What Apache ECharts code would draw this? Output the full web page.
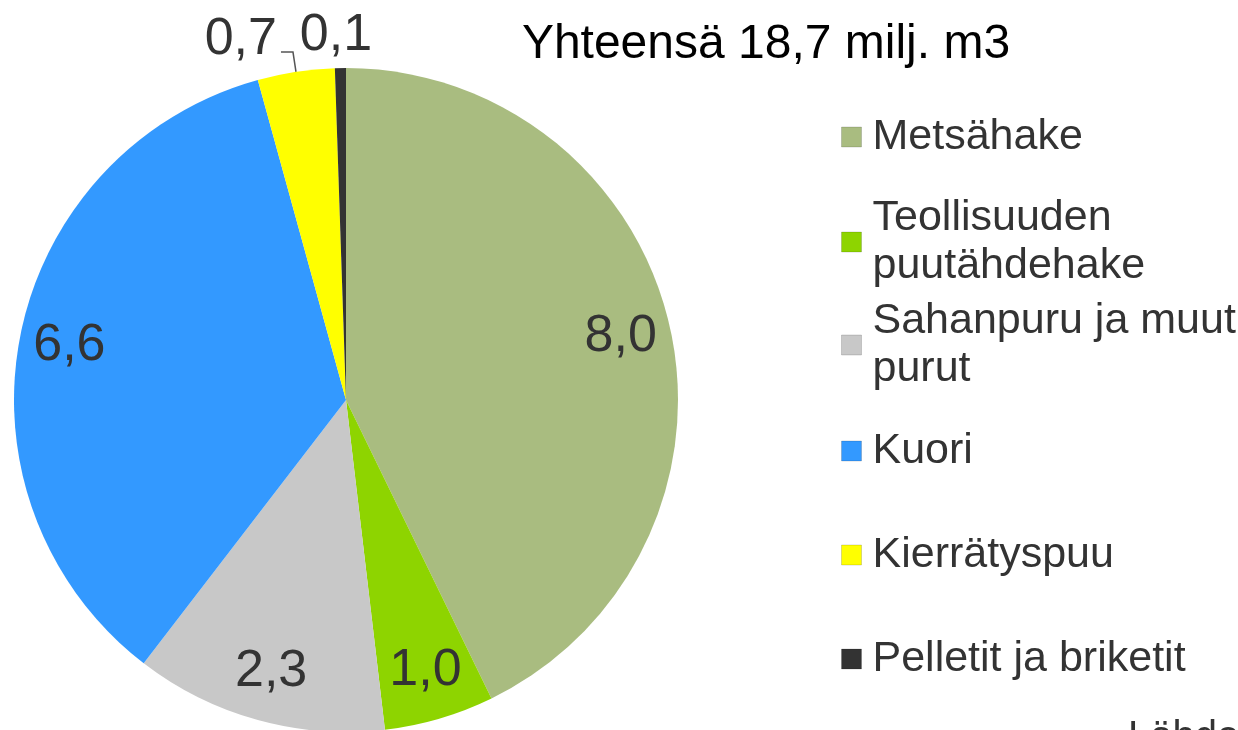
<!DOCTYPE html>
<html>
<head>
<meta charset="utf-8">
<script src="https://cdn.jsdelivr.net/npm/echarts@6/dist/echarts.min.js"></script>
<style>
  html, body { margin: 0; padding: 0; background: #fff; }
  #chart { width: 1238px; height: 730px; }
</style>
</head>
<body>
<div id="chart"></div>
<script>
(function(){

    var names = ['Metsähake', 'Teollisuuden\npuutähdehake', 'Sahanpuru ja muut\npurut', 'Kuori', 'Kierrätyspuu', 'Pelletit ja briketit'];
    var values = [8.0, 1.0, 2.3, 6.6, 0.7, 0.1];
    var colors = ['#A9BC80', '#8ED400', '#C8C8C8', '#3399FF', '#FFFF00', '#333333'];
    var legendCenters = [137, 242, 345, 451, 555, 659];
    var titleText = 'Yhteensä 18,7 milj. m3';
    var sourceText = 'Lähde:';

    var font = '"Liberation Sans", Arial, sans-serif';
    var cx = 346, cy = 400, r = 332;
    var lh = 48;

    function fmt(v){
        return v.toFixed(1).replace('.', ',');
    }

    var chart = echarts.init(document.getElementById('chart'));

    // pieni siivu -> label ulkona
    var pieData = [], labelData = [];
    for (var i = 0; i < names.length; i++) {
        var small = values[i] < 1;
        pieData.push({
            name: names[i],
            value: values[i],
            label: { show: small },
            labelLine: { show: small && i === 4 }
        });
        labelData.push({
            name: names[i],
            value: values[i],
            label: { show: !small }
        });
    }

    //legendat, yksi per rivi
    var legends = [];
    for (var j = 0; j < names.length; j++) {
        var twoLine = names[j].indexOf('\n') >= 0;
        legends.push({
            data: [names[j]],
            orient: 'vertical',
            left: 841,
            top: legendCenters[j] - (twoLine ? 1.5 * lh : 0.5 * lh),
            padding: 0,
            itemWidth: 20,
            itemHeight: 20,
            icon: 'rect',
            selectedMode: false,
            itemStyle: { borderColor: 'rgba(0,0,0,0.15)', borderWidth: 1 },
            textStyle: {
                fontFamily: font,
                fontSize: 43,
                lineHeight: lh,
                color: '#333',
                padding: [twoLine ? lh : 0, 0, 0, 6]
            }
        });
    }

    var option = {
        color: colors,
        animation: false,
        title: {
            text: titleText,
            left: 766,
            textAlign: 'center',
            top: 21,
            padding: 0,
            textStyle: {
                fontFamily: font,
                fontSize: 48,
                fontWeight: 'normal',
                color: '#000'
            }
        },
        legend: legends,
        graphic: [{
            type: 'text',
            left: 1128,
            top: 718,
            style: {
                text: sourceText,
                font: '40px ' + font,
                fill: '#333'
            }
        }],
        series: [
            {
                name: 'puu',
                type: 'pie',
                center: [cx, cy],
                radius: [0, r],
                startAngle: 90,
                clockwise: true,
                avoidLabelOverlap: false,
                emphasis: { disabled: true },
                label: {
                    position: 'outside',
                    fontFamily: font,
                    fontSize: 52,
                    color: '#333',
                    distanceToLabelLine: 4,
                    formatter: function(p){ return fmt(p.value); }
                },
                labelLine: {
                    length: 20,
                    length2: 12,
                    smooth: false,
                    lineStyle: { color: '#555', width: 1.5 }
                },
                labelLayout: function(p){
                    if (p.dataIndex === 5) {
                        return { dx: 48, dy: -12 };
                    }
                    if (p.dataIndex === 4) {
                        return { dy: -12 };
                    }
                },
                data: pieData
            },
            {
                // näkymätön piirakka datalabeleille
                name: 'labels',
                type: 'pie',
                center: [cx, cy],
                radius: [0, r * 1.68],
                startAngle: 90,
                clockwise: true,
                silent: true,
                avoidLabelOverlap: false,
                emphasis: { disabled: true },
                itemStyle: { color: 'rgba(0,0,0,0)' },
                label: {
                    position: 'inside',
                    fontFamily: font,
                    fontSize: 52,
                    color: '#333',
                    formatter: function(p){ return fmt(p.value); }
                },
                labelLine: { show: false },
                data: labelData
            }
        ]
    };

    chart.setOption(option);

})();
</script>
</body>
</html>
